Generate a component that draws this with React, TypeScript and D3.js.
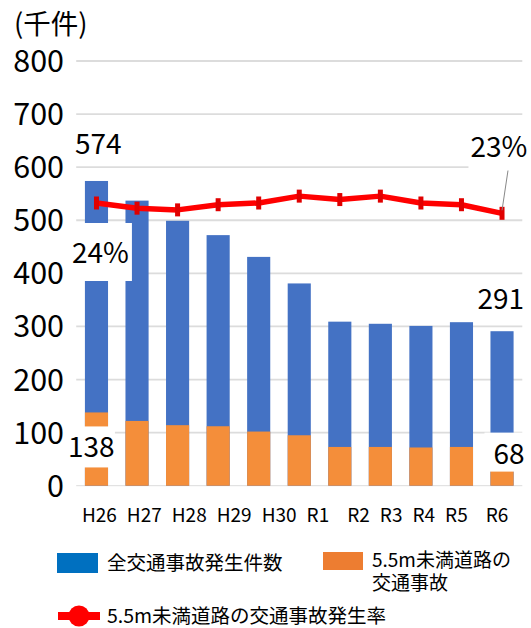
import React from "react";
import * as d3 from "d3";

const categories = ["H26", "H27", "H28", "H29", "H30", "R1", "R2", "R3", "R4", "R5", "R6"];
const totalAccidents = [574, 537, 499, 472, 431, 381, 309, 305, 301, 308, 291];
const narrowRoadAccidents = [138, 122, 114, 112, 102, 95, 73, 73, 72, 73, 68];
const narrowRoadRate = [24.0, 23.7, 23.6, 23.9, 24.0, 24.4, 24.2, 24.4, 24.0, 23.9, 23.4];
const yTicks = [0, 100, 200, 300, 400, 500, 600, 700, 800];
const yUnit = "(千件)";
const legendTotal = "全交通事故発生件数";
const legendNarrowLines = ["5.5m未満道路の", "交通事故"];
const legendRate = "5.5m未満道路の交通事故発生率";
const wideGapAfter = ["R1", "R5"];

const W = 531;
const H = 628;
const BLUE = "#4472C4";
const ORANGE = "#F48E3A";
const RED = "#FF0000";
const FONT = "'Noto Sans CJK JP', 'Noto Sans', sans-serif";

export default function App() {
  const x = d3
    .scaleBand<string>()
    .domain(categories)
    .range([76.2, 522.3])
    .paddingInner(0.43)
    .paddingOuter(0.215);
  const y = d3.scaleLinear().domain([0, 800]).range([485.7, 61]);
  const yRate = d3.scaleLinear().domain([22, 25]).range([237.4, 185.8]);
  const bw = x.bandwidth();
  const cx = (c: string) => (x(c) as number) + bw / 2;

  const line = d3
    .line<number>()
    .x((_, i) => cx(categories[i]))
    .y((d) => yRate(d));

  const first = categories[0];
  const last = categories[categories.length - 1];
  const n = categories.length - 1;

  const labelBox = (
    key: string,
    text: string,
    bx: number,
    by: number,
    bwid: number,
    bh: number,
    tx: number,
    ty: number,
    size: number
  ) => (
    <g key={key}>
      <rect x={bx} y={by} width={bwid} height={bh} fill="#ffffff" />
      <text x={tx} y={ty} fontSize={size} fontFamily={FONT} fill="#000">
        {text}
      </text>
    </g>
  );

  const x0 = x(first) as number;
  const xl = x(last) as number;

  return (
    <svg
      width={W}
      height={H}
      style={{ position: "absolute", left: 0, top: 0, background: "#fff" }}
    >
      <rect x={0} y={0} width={W} height={H} fill="#fff" />
      {/* gridlines */}
      {yTicks.map((t) => (
        <line
          key={t}
          x1={76.2}
          x2={522.3}
          y1={y(t)}
          y2={y(t)}
          stroke="#DCDCDC"
          strokeWidth={t === 0 ? 1 : 1.8}
        />
      ))}
      {/* y tick labels */}
      {yTicks.map((t) => (
        <text
          key={"yl" + t}
          x={64}
          y={y(t)}
          dy="0.36em"
          textAnchor="end"
          fontSize={30.5}
          fontFamily={FONT}
          fill="#000"
        >
          {t}
        </text>
      ))}
      <text x={14} y={34} fontSize={27.5} fontFamily={FONT} fill="#000">
        {yUnit}
      </text>
      {/* bars */}
      {categories.map((c, i) => (
        <g key={"b" + c}>
          <rect
            x={x(c)}
            y={y(totalAccidents[i])}
            width={bw}
            height={y(0) - y(totalAccidents[i])}
            fill={BLUE}
          />
          <rect
            x={x(c)}
            y={y(narrowRoadAccidents[i])}
            width={bw}
            height={y(0) - y(narrowRoadAccidents[i])}
            fill={ORANGE}
          />
        </g>
      ))}
      {/* rate line */}
      <path d={line(narrowRoadRate) || ""} fill="none" stroke={RED} strokeWidth={5.5} strokeLinejoin="round" />
      {narrowRoadRate.map((r, i) => (
        <rect
          key={"m" + i}
          x={cx(categories[i]) - 2.5}
          y={yRate(r) - 6.5}
          width={5}
          height={13}
          fill="#E00000"
        />
      ))}
      {/* leader line for last rate */}
      <line
        x1={cx(last) + 6}
        y1={yRate(narrowRoadRate[n]) - 43}
        x2={cx(last)}
        y2={yRate(narrowRoadRate[n]) - 3}
        stroke="#888"
        strokeWidth={1}
      />
      {/* data labels */}
      {labelBox("l574", String(totalAccidents[0]), x0 - 12, y(totalAccidents[0]) - 49, 50, 31, x0 - 10, y(totalAccidents[0]) - 27, 28)}
      {labelBox("l24", Math.round(narrowRoadRate[0]) + "%", x0 - 15, yRate(narrowRoadRate[0]) + 20, 62, 58, x0 - 13, yRate(narrowRoadRate[0]) + 60, 28)}
      {labelBox("l138", String(narrowRoadAccidents[0]), x0 - 18, y(narrowRoadAccidents[0]) + 14, 48, 41, x0 - 17, y(narrowRoadAccidents[0]) + 44.5, 28)}
      {labelBox("l291", String(totalAccidents[n]), xl - 14, y(totalAccidents[n]) - 50, 48, 31, xl - 13, y(totalAccidents[n]) - 22.5, 28)}
      {labelBox("l68", String(narrowRoadAccidents[n]), xl - 6, y(narrowRoadAccidents[n]) - 17, 46, 39, xl + 3, y(narrowRoadAccidents[n]) + 14.5, 28)}
      {labelBox("l23", Math.round(narrowRoadRate[n]) + "%", xl - 22, yRate(narrowRoadRate[n]) - 96, 62, 53, xl - 20, yRate(narrowRoadRate[n]) - 56, 28)}
      {/* x labels */}
      <text x={x0 - 3} y={522} fontSize={19} fontFamily={FONT} fill="#000">
        {categories.map((c, i) => (
          <tspan key={"xl" + c} dx={i === 0 ? 0 : wideGapAfter.includes(categories[i - 1]) ? 18 : 10}>
            {c}
          </tspan>
        ))}
      </text>
      {/* legend */}
      <rect x={57} y={553} width={41} height={20} fill="#0070C0" />
      <text x={107} y={563} dy="0.36em" fontSize={19.5} fontFamily={FONT} fill="#000">
        {legendTotal}
      </text>
      <rect x={323} y={552} width={40} height={18} fill="#ED7D31" />
      {legendNarrowLines.map((t, i) => (
        <text key={"ln" + i} x={372} y={560 + i * 23} dy="0.36em" fontSize={19} fontFamily={FONT} fill="#000">
          {t}
        </text>
      ))}
      <line x1={58} x2={100} y1={616} y2={616} stroke={RED} strokeWidth={8} />
      <circle cx={79} cy={616} r={10.5} fill={RED} />
      <text x={107} y={616} dy="0.36em" fontSize={19.5} fontFamily={FONT} fill="#000">
        {legendRate}
      </text>
    </svg>
  );
}
